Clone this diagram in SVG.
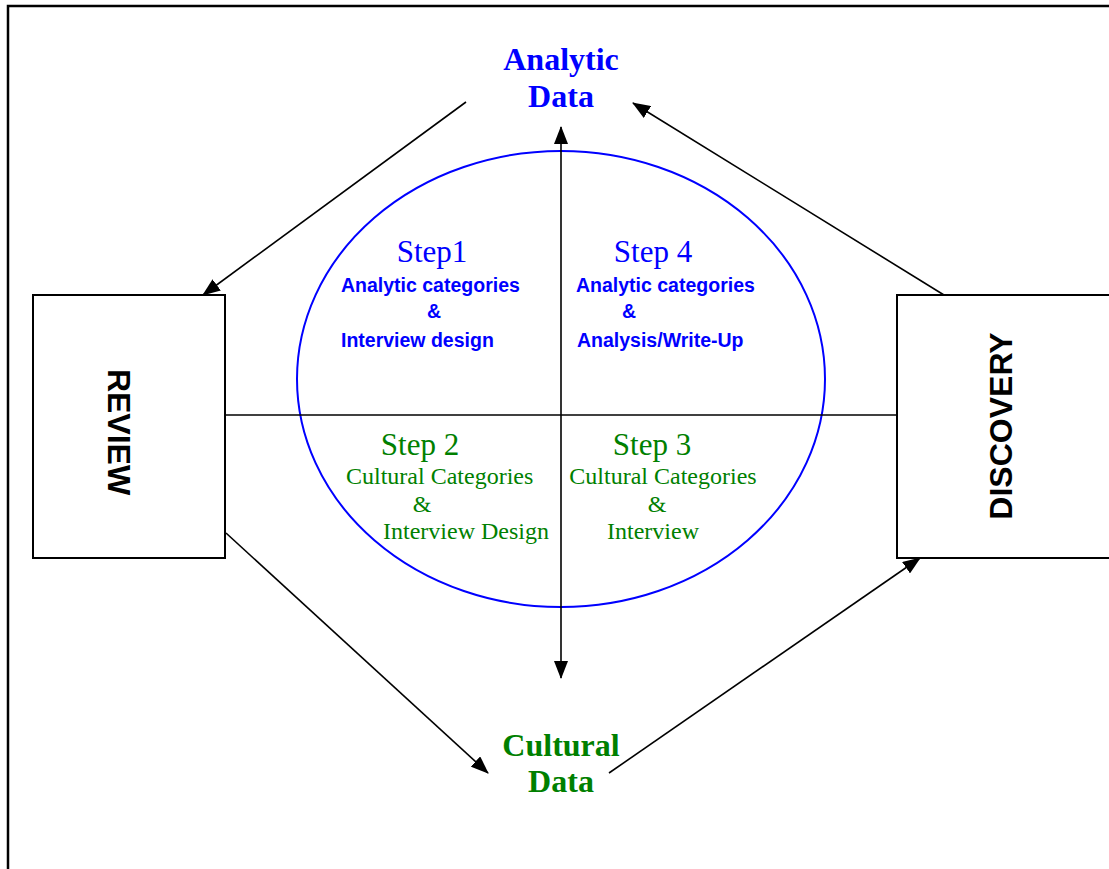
<svg xmlns="http://www.w3.org/2000/svg" width="1109" height="869" viewBox="0 0 1109 869">
<defs>
<style>
.ln{stroke:#000;stroke-width:1.6;fill:none}
.box{stroke:#000;stroke-width:2;fill:#fff}
.ttl{font-family:"Liberation Serif",serif;font-weight:bold;font-size:32px;text-anchor:middle}
.step{font-family:"Liberation Serif",serif;font-size:31px;text-anchor:middle}
.sa{font-family:"Liberation Sans",Arial,sans-serif;font-weight:bold;font-size:19.5px;fill:#0000ff}
.sc{font-family:"Liberation Serif",serif;font-size:24px;fill:#008000}
.lab{font-family:"Liberation Sans",Arial,sans-serif;font-weight:bold;font-size:32px;text-anchor:middle;fill:#000}
.blue{fill:#0000ff}
.green{fill:#008000}
</style>
<marker id="ah" viewBox="0 0 18 14" refX="17" refY="7" markerWidth="18" markerHeight="14" markerUnits="userSpaceOnUse" orient="auto">
<path d="M0,0 L18,7 L0,14 Z" fill="#000"/>
</marker>
</defs>
<rect x="0" y="0" width="1109" height="869" fill="#fff"/>
<path d="M8,869 V6 H1109" stroke="#000" stroke-width="2.5" fill="none"/>

<g id="ellipse">
<ellipse cx="561" cy="379" rx="264" ry="228" fill="none" stroke="#0000ff" stroke-width="2"/>
</g>

<g id="connectors">
<line class="ln" x1="226" y1="415" x2="897" y2="415"/>
<line class="ln" x1="561" y1="415" x2="561" y2="127" marker-end="url(#ah)"/>
<line class="ln" x1="561" y1="415" x2="561" y2="678" marker-end="url(#ah)"/>
<line class="ln" x1="466" y1="102" x2="203" y2="295" marker-end="url(#ah)"/>
<line class="ln" x1="944" y1="295" x2="633" y2="103" marker-end="url(#ah)"/>
<line class="ln" x1="226" y1="533" x2="488" y2="773" marker-end="url(#ah)"/>
<line class="ln" x1="609" y1="773" x2="920" y2="558" marker-end="url(#ah)"/>
</g>

<g id="review">
<rect class="box" x="33" y="295" width="192" height="263"/>
<text class="lab" transform="translate(108,432) rotate(90)">REVIEW</text>
</g>

<g id="discovery">
<rect class="box" x="897" y="295" width="220" height="263"/>
<text class="lab" transform="translate(1012,426) rotate(-90)">DISCOVERY</text>
</g>

<g id="analytic-data">
<text class="ttl blue" x="561" y="70">Analytic</text>
<text class="ttl blue" x="561" y="107">Data</text>
</g>

<g id="cultural-data">
<text class="ttl green" x="561" y="756">Cultural</text>
<text class="ttl green" x="561" y="792">Data</text>
</g>

<g id="step1">
<text class="step blue" x="432" y="262">Step1</text>
<text class="sa" x="341" y="292">Analytic categories</text>
<text class="sa" x="434" y="318" text-anchor="middle">&amp;</text>
<text class="sa" x="341" y="347">Interview design</text>
</g>

<g id="step4">
<text class="step blue" x="653" y="262">Step 4</text>
<text class="sa" x="576" y="292">Analytic categories</text>
<text class="sa" x="629" y="318" text-anchor="middle">&amp;</text>
<text class="sa" x="577" y="347">Analysis/Write-Up</text>
</g>

<g id="step2">
<text class="step green" x="420" y="455">Step 2</text>
<text class="sc" x="346" y="484">Cultural Categories</text>
<text class="sc" x="422" y="512" text-anchor="middle">&amp;</text>
<text class="sc" x="383" y="539">Interview Design</text>
</g>

<g id="step3">
<text class="step green" x="652" y="455">Step 3</text>
<text class="sc" x="663" y="484" text-anchor="middle">Cultural Categories</text>
<text class="sc" x="657" y="512" text-anchor="middle">&amp;</text>
<text class="sc" x="653" y="539" text-anchor="middle">Interview</text>
</g>
</svg>
